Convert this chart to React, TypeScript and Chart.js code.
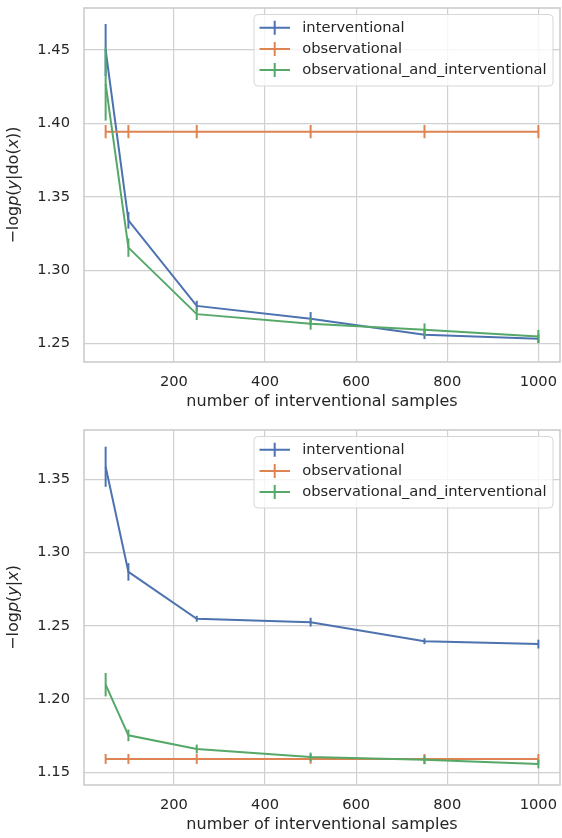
import React, { useEffect, useRef } from "react";
import { Chart, registerables } from "chart.js";

Chart.register(...registerables);

// ---------- data ----------
const xSamples = [50, 100, 250, 500, 750, 1000];
const seriesLabels = ["interventional", "observational", "observational_and_interventional"];
const seriesColors = ["#4C72B0", "#DD8452", "#55A868"];
const xTicks = [200, 400, 600, 800, 1000];

// top panel: -log p(y|do(x))
const doInterventional = [1.45, 1.334, 1.2757, 1.267, 1.2561, 1.2534];
const doInterventionalErr = [0.0177, 0.0057, 0.0035, 0.0045, 0.003, 0.003];
const doObservational = [1.3944, 1.3944, 1.3944, 1.3944, 1.3944, 1.3944];
const doObservationalErr = [0.0045, 0.0045, 0.0045, 0.0045, 0.0045, 0.0045];
const doBoth = [1.4269, 1.3154, 1.2701, 1.2635, 1.2595, 1.2549];
const doBothErr = [0.025, 0.0063, 0.004, 0.004, 0.0043, 0.0045];
const doYTicks = [1.25, 1.3, 1.35, 1.4, 1.45];

// bottom panel: -log p(y|x)
const condInterventional = [1.3586, 1.2868, 1.2548, 1.2525, 1.2395, 1.2375];
const condInterventionalErr = [0.0137, 0.006, 0.002, 0.003, 0.002, 0.003];
const condObservational = [1.1591, 1.1591, 1.1591, 1.1591, 1.1591, 1.1591];
const condObservationalErr = [0.0034, 0.0034, 0.0034, 0.0034, 0.0034, 0.0034];
const condBoth = [1.2098, 1.1752, 1.1659, 1.1604, 1.1585, 1.1557];
const condBothErr = [0.008, 0.004, 0.003, 0.003, 0.003, 0.003];
const condYTicks = [1.15, 1.2, 1.25, 1.3, 1.35];

const xTitle = "number of interventional samples";
// segments of the y title: [text, italic]
const doYTitle: [string, boolean][] = [
  ["\u2212log", false], ["p", true], ["(", false], ["y", true], ["|do(", false], ["x", true], ["))", false],
];
const condYTitle: [string, boolean][] = [
  ["\u2212log", false], ["p", true], ["(", false], ["y", true], ["|", false], ["x", true], [")", false],
];

// ---------- style ----------
const FONT = "'DejaVu Sans', 'Noto Sans', sans-serif";
const TEXT = "#262626";
const GRID = "#d0d0d0";
const TICK_SIZE = 14.67;
const LABEL_SIZE = 16;

type PanelProps = {
  top: number;
  height: number;
  areaTop: number;
  areaBottom: number;
  yMin: number;
  yMax: number;
  yTicks: number[];
  values: number[][];
  errors: number[][];
  yTitle: [string, boolean][];
  xTickPad: number;
  xTitlePad: number;
};

function Panel(p: PanelProps) {
  const ref = useRef<HTMLCanvasElement | null>(null);
  useEffect(() => {
    const canvas = ref.current;
    if (!canvas) return;

    const errorBars = {
      id: "errorBars",
      afterDatasetDraw(chart: any, args: any) {
        const i = args.index;
        const ctx = chart.ctx;
        const xs = chart.scales.x;
        const ys = chart.scales.y;
        ctx.save();
        ctx.strokeStyle = seriesColors[i];
        ctx.lineWidth = 2;
        p.values[i].forEach((v, k) => {
          const e = p.errors[i][k];
          const x = xs.getPixelForValue(xSamples[k]);
          ctx.beginPath();
          ctx.moveTo(x, ys.getPixelForValue(v + e));
          ctx.lineTo(x, ys.getPixelForValue(v - e));
          ctx.stroke();
        });
        ctx.restore();
      },
    };

    const frame = {
      id: "frame",
      beforeDatasetsDraw(chart: any) {
        const { left, right, top, bottom } = chart.chartArea;
        const ctx = chart.ctx;
        ctx.save();
        ctx.strokeStyle = "#cccccc";
        ctx.lineWidth = 1.6;
        ctx.strokeRect(left, top, right - left, bottom - top);
        ctx.restore();
      },
    };

    const yTitlePlugin = {
      id: "yTitle",
      afterDraw(chart: any) {
        const ctx = chart.ctx;
        const { top, bottom } = chart.chartArea;
        ctx.save();
        const fontFor = (it: boolean) => `${it ? "italic " : ""}${LABEL_SIZE}px ${FONT}`;
        let total = 0;
        const widths = p.yTitle.map(([t, it]) => {
          ctx.font = fontFor(it);
          const w = ctx.measureText(t).width;
          total += w;
          return w;
        });
        ctx.translate(13.5, (top + bottom) / 2);
        ctx.rotate(-Math.PI / 2);
        ctx.fillStyle = TEXT;
        ctx.textBaseline = "middle";
        ctx.textAlign = "left";
        let x = -total / 2;
        p.yTitle.forEach(([t, it], k) => {
          ctx.font = fontFor(it);
          ctx.fillText(t, x, 0);
          x += widths[k];
        });
        ctx.restore();
      },
    };

    const legendPlugin = {
      id: "customLegend",
      afterDraw(chart: any) {
        const ctx = chart.ctx;
        const { right, top } = chart.chartArea;
        const boxRight = right - 7;
        const boxLeft = 254;
        const boxTop = top + 6.5;
        const boxH = 71.5;
        const r = 4;
        ctx.save();
        ctx.beginPath();
        ctx.moveTo(boxLeft + r, boxTop);
        ctx.lineTo(boxRight - r, boxTop);
        ctx.arcTo(boxRight, boxTop, boxRight, boxTop + r, r);
        ctx.lineTo(boxRight, boxTop + boxH - r);
        ctx.arcTo(boxRight, boxTop + boxH, boxRight - r, boxTop + boxH, r);
        ctx.lineTo(boxLeft + r, boxTop + boxH);
        ctx.arcTo(boxLeft, boxTop + boxH, boxLeft, boxTop + boxH - r, r);
        ctx.lineTo(boxLeft, boxTop + r);
        ctx.arcTo(boxLeft, boxTop, boxLeft + r, boxTop, r);
        ctx.closePath();
        ctx.fillStyle = "rgba(255,255,255,0.8)";
        ctx.fill();
        ctx.strokeStyle = "#d6d6d6";
        ctx.lineWidth = 1;
        ctx.stroke();
        ctx.font = `${TICK_SIZE}px ${FONT}`;
        ctx.textBaseline = "middle";
        ctx.textAlign = "left";
        seriesLabels.forEach((lab, k) => {
          const cy = top + 19.7 + k * 21.2;
          ctx.strokeStyle = seriesColors[k];
          ctx.lineWidth = 2;
          ctx.beginPath();
          ctx.moveTo(259.5, cy);
          ctx.lineTo(290, cy);
          ctx.moveTo(274.7, cy - 7);
          ctx.lineTo(274.7, cy + 7);
          ctx.stroke();
          ctx.fillStyle = TEXT;
          ctx.fillText(lab, 302.3, cy + 0.5);
        });
        ctx.restore();
      },
    };

    const chart = new Chart(canvas, {
      type: "line",
      data: {
        datasets: seriesLabels.map((label, i) => ({
          label,
          data: xSamples.map((x, k) => ({ x, y: p.values[i][k] })),
          borderColor: seriesColors[i],
          backgroundColor: seriesColors[i],
          borderWidth: 2,
          pointRadius: 0,
          pointHoverRadius: 0,
          tension: 0,
          fill: false,
          order: 2 - i,
        })),
      },
      options: {
        responsive: false,
        animation: false,
        devicePixelRatio: 1,
        events: [],
        layout: { padding: { top: p.areaTop, right: 2, left: 0, bottom: 0 } },
        plugins: { legend: { display: false }, tooltip: { enabled: false } },
        scales: {
          x: {
            type: "linear",
            min: 2.5,
            max: 1047.5,
            afterBuildTicks: (s: any) => {
              s.ticks = xTicks.map((v) => ({ value: v }));
            },
            afterFit: (s: any) => {
              s.height = p.height - p.areaBottom;
              s.paddingLeft = 0;
              s.paddingRight = 0;
              s.paddingTop = 0;
              s.paddingBottom = 0;
            },
            ticks: {
              autoSkip: false,
              maxRotation: 0,
              padding: p.xTickPad,
              color: TEXT,
              font: { family: FONT, size: TICK_SIZE },
              callback: (v: any) => String(v),
            },
            grid: { color: GRID, lineWidth: 1.2, drawTicks: false },
            border: { display: false },
            title: {
              display: true,
              text: xTitle,
              color: TEXT,
              font: { family: FONT, size: LABEL_SIZE },
              padding: { top: 0, bottom: p.xTitlePad },
            },
          },
          y: {
            type: "linear",
            min: p.yMin,
            max: p.yMax,
            afterBuildTicks: (s: any) => {
              s.ticks = p.yTicks.map((v) => ({ value: v }));
            },
            afterFit: (s: any) => {
              s.width = 84;
              s.paddingLeft = 0;
              s.paddingRight = 0;
              s.paddingTop = 0;
              s.paddingBottom = 0;
            },
            ticks: {
              autoSkip: false,
              padding: 14,
              color: TEXT,
              font: { family: FONT, size: TICK_SIZE },
              callback: (v: any) => Number(v).toFixed(2),
            },
            grid: { color: GRID, lineWidth: 1.2, drawTicks: false },
            border: { display: false },
          },
        },
      },
      plugins: [frame, errorBars, legendPlugin, yTitlePlugin],
    } as any);
    return () => chart.destroy();
  }, []);

  return (
    <canvas
      ref={ref}
      width={562}
      height={p.height}
      style={{ position: "absolute", left: 0, top: p.top, width: 562, height: p.height, display: "block" }}
    />
  );
}

export default function App() {
  return (
    <div style={{ position: "absolute", left: 0, top: 0, width: 562, height: 838, background: "#ffffff", overflow: "hidden" }}>
      <Panel
        top={0}
        height={419}
        areaTop={8}
        areaBottom={362}
        yMin={1.2375}
        yMax={1.4786}
        yTicks={doYTicks}
        values={[doInterventional, doObservational, doBoth]}
        errors={[doInterventionalErr, doObservationalErr, doBothErr]}
        yTitle={doYTitle}
        xTickPad={11.7}
        xTitlePad={7.7}
      />
      <Panel
        top={419}
        height={419}
        areaTop={11}
        areaBottom={366}
        yMin={1.1413}
        yMax={1.3837}
        yTicks={condYTicks}
        values={[condInterventional, condObservational, condBoth]}
        errors={[condInterventionalErr, condObservationalErr, condBothErr]}
        yTitle={condYTitle}
        xTickPad={11.2}
        xTitlePad={3.4}
      />
    </div>
  );
}
